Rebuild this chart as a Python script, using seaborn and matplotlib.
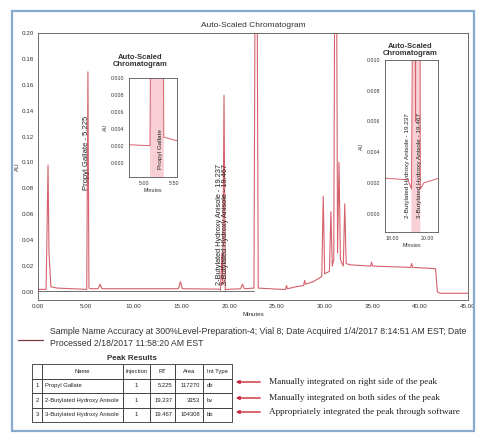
import matplotlib
matplotlib.use("Agg")
import matplotlib.pyplot as plt
from matplotlib.ticker import MultipleLocator, FormatStrFormatter, FixedLocator
from matplotlib.patches import Rectangle, FancyArrowPatch
from matplotlib.lines import Line2D
import seaborn as sns
import pandas as pd

# ---------------- data ----------------
time_min = [0.0, 0.85, 0.95, 1.05, 1.15, 1.35, 2.0, 5.1, 5.225, 5.33, 5.6,
            6.3, 6.5, 6.7, 14.7, 14.9, 15.1, 18.9, 19.1, 19.237, 19.33, 19.467,
            19.6, 19.8, 21.2, 21.4, 21.6, 22.6, 22.82, 23.05, 25.5, 25.9, 26.0,
            26.1, 27.0, 27.8, 27.9, 28.0, 28.8, 29.5, 29.7, 29.85, 30.0, 30.5,
            30.65, 30.8, 30.95, 31.15, 31.35, 31.5, 31.65, 31.95, 32.1, 32.25,
            32.6, 34.8, 34.9, 35.0, 39.0, 39.1, 39.2, 41.6, 41.8, 42.1, 45.0]
au = [0.002, 0.002, 0.05, 0.098, 0.03, 0.004, 0.003, 0.002, 0.170, 0.003, 0.0025,
      0.0025, 0.006, 0.0025, 0.0025, 0.008, 0.0025, 0.0022, 0.0016, 0.030, 0.006, 0.152,
      0.0016, 0.002, 0.0025, 0.006, 0.0025, 0.003, 0.45, 0.003, 0.002, 0.002, 0.005,
      0.0025, 0.004, 0.005, 0.009, 0.006, 0.008, 0.011, 0.012, 0.074, 0.014, 0.016,
      0.062, 0.020, 0.025, 0.45, 0.030, 0.100, 0.025, 0.020, 0.068, 0.022,
      0.021, 0.020, 0.023, 0.020, 0.019, 0.022, 0.019, 0.018, 0.000, -0.001, -0.001]
baseline_time = [0.0, 22.6]
baseline_au = [0.001, 0.001]

peak_ids = ["1", "2", "3"]
peak_names = ["Propyl Gallate", "2-Butylated Hydroxy Anisole", "3-Butylated Hydroxy Anisole"]
peak_injection = ["1", "1", "1"]
peak_rt = [5.225, 19.237, 19.467]
peak_area = ["117270", "3353", "104308"]
peak_int_type = ["db", "bv", "bb"]
table_header = ["", "Name", "Injection", "RT", "Area", "Int Type"]

notes = ["Manually integrated on right side of the peak",
         "Manually integrated on both sides of the peak",
         "Appropriately integrated the peak through software"]

x_ticks = [0, 5, 10, 15, 20, 25, 30, 35, 40, 45]
y_ticks = [0.00, 0.02, 0.04, 0.06, 0.08, 0.10, 0.12, 0.14, 0.16, 0.18, 0.20]
left_inset_xticks = [5.0, 5.5]
left_inset_yticks = [0.000, 0.002, 0.004, 0.006, 0.008, 0.010]
right_inset_xticks = [18.0, 20.0]
right_inset_yticks = [0.000, 0.002, 0.004, 0.006, 0.008, 0.010]

sample_text = ("Sample Name Accuracy at 300%Level-Preparation-4; Vial 8; "
               "Date Acquired 1/4/2017 8:14:51 AM EST; Date")
processed_text = "Processed 2/18/2017 11:58:20 AM EST"

# ---------------- styling ----------------
sns.set_theme(style="white")
plt.rcParams["font.family"] = ["Liberation Sans", "DejaVu Sans"]

W, H = 484, 442
def fx(px):
    return px / W
def fy(py):
    return 1 - py / H

TRACE = "#d6606c"
GRAY = "#5a5a5a"
TXT = "#333333"

fig = plt.figure(figsize=(W / 100, H / 100), dpi=100)
fig.patch.set_facecolor("white")

trace = pd.DataFrame({"Minutes": time_min, "AU": au})
base = pd.DataFrame({"Minutes": baseline_time, "AU": baseline_au})

def style_axes(a, fs):
    for s in a.spines.values():
        s.set_color("#555555")
        s.set_linewidth(0.6)
        s.set_visible(True)
    a.tick_params(axis="both", which="major", labelsize=fs, length=2, width=0.5,
                  colors="#555555", labelcolor=TXT, pad=1.2, direction="out")
    a.tick_params(axis="both", which="minor", length=1, width=0.4, colors="#555555")
    a.set_facecolor("white")

# ---------------- main chromatogram ----------------
ax = fig.add_axes([fx(38), fy(300), (468 - 38) / W, (300 - 33) / H])
sns.lineplot(data=base, x="Minutes", y="AU", ax=ax, color=GRAY, linewidth=0.6,
             estimator=None, sort=False)
sns.lineplot(data=trace, x="Minutes", y="AU", ax=ax, color=TRACE, linewidth=0.8,
             estimator=None, sort=False)
ax.set_xlim(0, 45)
ax.set_ylim(-0.0062, 0.20)
ax.xaxis.set_major_locator(FixedLocator(x_ticks))
ax.yaxis.set_major_locator(FixedLocator(y_ticks))
ax.xaxis.set_minor_locator(MultipleLocator(1))
ax.yaxis.set_minor_locator(MultipleLocator(0.01))
ax.xaxis.set_major_formatter(FormatStrFormatter("%.2f"))
ax.yaxis.set_major_formatter(FormatStrFormatter("%.2f"))
style_axes(ax, 4.5)
ax.set_xlabel("Minutes", fontsize=4.5, color=TXT, labelpad=1.5)
ax.set_ylabel("AU", fontsize=4.5, color=TXT)
ax.yaxis.set_label_coords(-0.042, 0.5)
ax.set_title("Auto-Scaled Chromatogram", fontsize=6, color=TXT, pad=4)

# peak labels
ax.text(peak_rt[0] - 0.12, 0.079, f"{peak_names[0]} - {peak_rt[0]:.3f}", rotation=90,
        ha="center", va="bottom", fontsize=5.5, color="#222222")
ax.text(peak_rt[1] - 0.2, 0.005, f"{peak_names[1]} - {peak_rt[1]:.3f}", rotation=90,
        ha="center", va="bottom", fontsize=5.3, color="#222222")
ax.text(peak_rt[2] + 0.15, 0.005, f"{peak_names[2]} - {peak_rt[2]:.3f}", rotation=90,
        ha="center", va="bottom", fontsize=5.3, color="#222222")

# ---------------- insets ----------------
def inset(rect, xlim, ylim, xt, yt, fill_range, labels):
    a = fig.add_axes(rect)
    sns.lineplot(data=trace, x="Minutes", y="AU", ax=a, color=TRACE, linewidth=0.7,
                 estimator=None, sort=False)
    sub = trace[(trace["Minutes"] >= fill_range[0]) & (trace["Minutes"] <= fill_range[1])]
    a.fill_between(sub["Minutes"], sub["AU"], ylim[0], color="#f2a9b2", alpha=0.55, lw=0)
    a.set_xlim(*xlim)
    a.set_ylim(*ylim)
    a.xaxis.set_major_locator(FixedLocator(xt))
    a.yaxis.set_major_locator(FixedLocator(yt))
    a.xaxis.set_major_formatter(FormatStrFormatter("%.2f"))
    a.yaxis.set_major_formatter(FormatStrFormatter("%.3f"))
    style_axes(a, 3.8)
    a.set_xlabel("Minutes", fontsize=3.8, color=TXT, labelpad=1)
    a.set_ylabel("AU", fontsize=3.8, color=TXT, labelpad=2)
    for (xpos, txt) in labels:
        a.text(xpos, ylim[0] + (ylim[1] - ylim[0]) * 0.08, txt, rotation=90,
               ha="center", va="bottom", fontsize=4.6, color="#222222")
    return a

inset([fx(129), fy(177), (177 - 129) / W, (177 - 78) / H], (4.75, 5.55), (-0.0017, 0.010),
      left_inset_xticks, left_inset_yticks, (5.1, 5.33),
      [(5.27, peak_names[0])])
inset([fx(385), fy(232), (438 - 385) / W, (232 - 60) / H], (17.6, 20.6), (-0.0012, 0.010),
      right_inset_xticks, right_inset_yticks, (18.95, 19.7),
      [(18.85, f"{peak_names[1]} - {peak_rt[1]:.3f}"),
       (19.55, f"{peak_names[2]} - {peak_rt[2]:.3f}")])

fig.text(fx(140), fy(61), "Auto-Scaled\nChromatogram", ha="center", va="center",
         fontsize=5.5, weight="bold", color=TXT, linespacing=1.15)
fig.text(fx(410), fy(50), "Auto-Scaled\nChromatogram", ha="center", va="center",
         fontsize=5.5, weight="bold", color=TXT, linespacing=1.15)

# ---------------- legend / sample text ----------------
fig.add_artist(Line2D([fx(18), fx(43)], [fy(340), fy(340)], color="#7a3b40", lw=0.9))
fig.text(fx(50), fy(331), sample_text, fontsize=6.3, color=TXT, va="center")
fig.text(fx(50), fy(343), processed_text, fontsize=6.3, color=TXT, va="center")

# ---------------- peak results table ----------------
fig.text(fx(132), fy(359), "Peak Results", fontsize=5.8, weight="bold", color=TXT,
         ha="center", va="center")
tax = fig.add_axes([fx(32), fy(422), (232 - 32) / W, (422 - 364) / H])
tax.axis("off")
rows = [[i, n, inj, f"{rt:.3f}", ar, it] for i, n, inj, rt, ar, it in
        zip(peak_ids, peak_names, peak_injection, peak_rt, peak_area, peak_int_type)]
col_w = [10, 81, 27, 25, 28, 29]
tbl = tax.table(cellText=rows, colLabels=table_header, colWidths=[c / 200 for c in col_w],
                bbox=[0, 0, 1, 1], cellLoc="center")
tbl.auto_set_font_size(False)
tbl.set_fontsize(4.2)
for (r, c), cell in tbl.get_celld().items():
    cell.set_edgecolor("#333333")
    cell.set_linewidth(0.6)
    cell.get_text().set_color("#222222")
    if r > 0:
        if c == 1:
            cell.PAD = 0.04
            cell._loc = "left"
            cell.get_text().set_ha("left")
        elif c == 5:
            cell.PAD = 0.12
            cell._loc = "left"
            cell.get_text().set_ha("left")
        elif c in (3, 4):
            cell.PAD = 0.1
            cell._loc = "right"
            cell.get_text().set_ha("right")

# ---------------- arrows and notes ----------------
for yy, note in zip([382, 398, 412], notes):
    fig.add_artist(FancyArrowPatch((fx(263), fy(yy)), (fx(233), fy(yy)),
                                   transform=fig.transFigure, arrowstyle="-|>",
                                   mutation_scale=5, color="#c8283a", lw=1.0))
    fig.text(fx(269), fy(yy), note, fontsize=6.7, color="#222222", va="center",
             family=["Liberation Serif", "DejaVu Serif"])

# ---------------- outer frame ----------------
fig.add_artist(Rectangle((fx(12), fy(431)), (474 - 12) / W, (431 - 11) / H,
                         transform=fig.transFigure, fill=False,
                         edgecolor="#86abcf", lw=1.6))

fig.savefig("out.png", dpi=100, facecolor="white")
